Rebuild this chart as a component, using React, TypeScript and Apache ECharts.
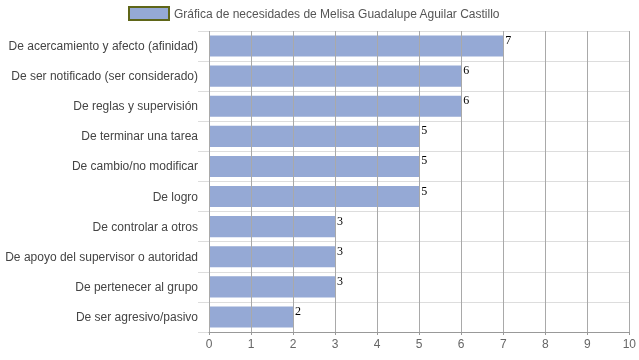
import React, { useEffect, useRef } from "react";
import * as echarts from "echarts";

const seriesName = "Gráfica de necesidades de Melisa Guadalupe Aguilar Castillo";
const categories = [
  "De acercamiento y afecto (afinidad)",
  "De ser notificado (ser considerado)",
  "De reglas y supervisión",
  "De terminar una tarea",
  "De cambio/no modificar",
  "De logro",
  "De controlar a otros",
  "De apoyo del supervisor o autoridad",
  "De pertenecer al grupo",
  "De ser agresivo/pasivo",
];
const values = [7, 6, 6, 5, 5, 5, 3, 3, 3, 2];

export default function App() {
  const ref = useRef<HTMLDivElement>(null);
  useEffect(() => {
    if (!ref.current) return;
    const chart = echarts.init(ref.current, null, { renderer: "svg" });
    chart.setOption({
      animation: false,
      textStyle: { fontFamily: "Liberation Sans, Arial, sans-serif" },
      legend: {
        top: 1,
        left: 123,
        itemWidth: 40,
        itemHeight: 13,
        itemGap: 6,
        icon: "rect",
        textStyle: { color: "#555", fontSize: 12, fontFamily: "Liberation Sans, Arial, sans-serif" },
        itemStyle: { borderColor: "#5f6618", borderWidth: 2 },
        data: [seriesName],
      },
      grid: { left: 209, right: 9, top: 31, bottom: 28, containLabel: false },
      xAxis: {
        type: "value",
        min: 0,
        max: 10,
        interval: 1,
        z: 5,
        axisLine: { show: true, lineStyle: { color: "#999" } },
        axisTick: { show: true, length: 3, lineStyle: { color: "#999" } },
        axisLabel: { color: "#666", fontSize: 12, margin: 6 },
        splitLine: { show: true, lineStyle: { color: "#a9a9a9", width: 1 } },
      },
      yAxis: {
        type: "category",
        data: categories,
        inverse: true,
        axisLine: { show: false },
        axisTick: { show: true, length: 11, lineStyle: { color: "#ddd" } },
        axisLabel: { color: "#444", fontSize: 12, margin: 11 },
        splitLine: { show: true, lineStyle: { color: "#ddd" } },
      },
      series: [
        {
          name: seriesName,
          type: "bar",
          data: values,
          barCategoryGap: "30%",
          itemStyle: { color: "#95a9d5" },
          label: {
            show: true,
            position: "right",
            distance: 2,
            offset: [0, -6],
            color: "#000",
            fontSize: 12,
            fontFamily: "Liberation Serif, Times New Roman, serif",
          },
        },
      ],
    });
    return () => chart.dispose();
  }, []);
  return (
    <div
      ref={ref}
      style={{ position: "fixed", left: 0, top: 0, width: 639, height: 360 }}
    />
  );
}
